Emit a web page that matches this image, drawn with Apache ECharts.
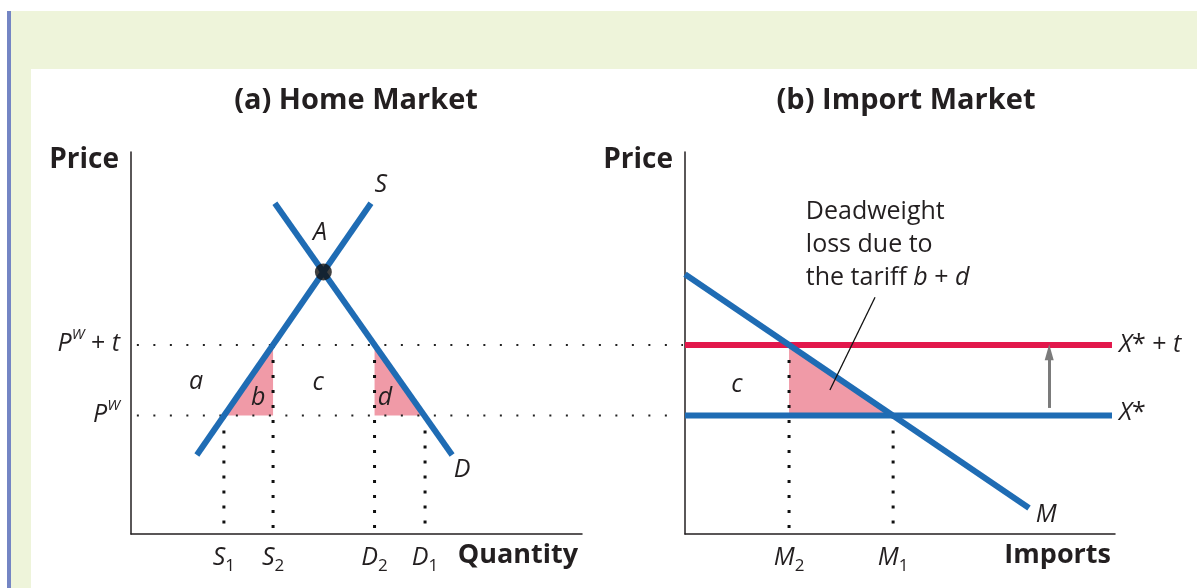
<!DOCTYPE html>
<html>
<head>
<meta charset="utf-8">
<script src="https://cdn.jsdelivr.net/npm/echarts@6/dist/echarts.min.js"></script>
<style>
  body { margin: 0; background: #fff; }
  .wrap { position: relative; width: 1197px; height: 588px; overflow: hidden; }
  .band { position: absolute; left: 11px; top: 11px; right: 0; bottom: 0; background: #eef4da; }
  .bar { position: absolute; left: 7px; top: 11px; width: 4px; bottom: 0; background: #7485c4; }
  .panel { position: absolute; left: 31px; top: 69px; right: 0; bottom: 0; background: #fff; }
  #chart { position: absolute; left: 0; top: 0; width: 1197px; height: 588px; }
</style>
</head>
<body>
<div class="wrap">
  <div class="band"></div>
  <div class="bar"></div>
  <div class="panel"></div>
  <div id="chart"></div>
</div>
<script>
// prices
let worldPrice = 3.1
let tariffPrice = 4.95

// (a) home market
let supplyQ = [1.46, 5.32]
let supplyP = [2.07, 8.66]
let demandQ = [3.19, 7.12]
let demandP = [8.66, 2.07]
let pointA = [4.265, 6.86]
let homeQNames = ['S1', 'S2', 'D2', 'D1']
let homeQ = [2.06, 3.15, 5.40, 6.52]
let homeQPrice = [worldPrice, tariffPrice, tariffPrice, worldPrice]
let triB = [[2.06, 3.1], [3.15, 4.95], [3.15, 3.1]]
let triD = [[5.40, 4.95], [5.40, 3.1], [6.52, 3.1]]
let homeNotes = ['S', 'A', 'D', 'a', 'b', 'c', 'd']
let homeNoteQ = [5.54, 4.19, 7.34, 1.44, 2.82, 4.15, 5.63]
let homeNoteP = [9.14, 7.88, 1.68, 3.98, 3.56, 3.95, 3.56]
// dotted price guides run from the home axis over to the import axis
let guideStart = 0.13
let guideEnd = [12.24, 12.1]

// (b) import market
let importQ = [0, 8.0]
let importP = [6.8, 0.68]
let exportEnd = 9.93
let importQNames = ['M2', 'M1']
let importQ2 = [2.42, 4.84]
let importQPrice = [tariffPrice, worldPrice]
let triM = [[2.42, 4.95], [2.42, 3.1], [4.84, 3.1]]
let leader = [[4.42, 6.2], [3.37, 3.77]]
let arrow = [8.47, 3.3, 4.76]

let font = 'Open Sans'
let blue = '#1f6cb4'
let red = '#e2184c'
let pink = '#f09aa7'
let ink = '#231f20'

let rich = {
    it: { fontStyle: 'italic', fontSize: 25, fontFamily: font, color: ink, lineHeight: 33 },
    n: { fontSize: 25, fontFamily: font, color: ink, lineHeight: 33 },
    sup: { fontStyle: 'italic', fontSize: 15, fontFamily: font, color: ink, verticalAlign: 'top', padding: [0, 0, 12, 0] },
    sub: { fontSize: 17, fontFamily: font, color: ink, verticalAlign: 'bottom', padding: [12, 0, 0, 0] }
}

function seg(xs, ys) {
    return xs.map((x, i) => [x, ys[i]])
}

function sub(name) {
    return '{it|' + name[0] + '}{sub|' + name.slice(1) + '}'
}

// text placed at data coords, dx/dy in px
function textSeries(idx, texts, xs, ys, align, dx, dy) {
    return {
        type: 'custom',
        xAxisIndex: idx, yAxisIndex: idx,
        z: 10,
        clip: false,
        data: xs.map((x, i) => [x, ys[i]]),
        renderItem: function (params, api) {
            let p = api.coord([api.value(0), api.value(1)])
            return {
                type: 'text',
                x: p[0] + dx, y: p[1] + dy,
                style: {
                    text: texts[params.dataIndex],
                    rich: rich,
                    align: align,
                    verticalAlign: 'middle',
                    fontSize: 25, fontFamily: font, fill: ink
                }
            }
        }
    }
}

function triSeries(idx, tris) {
    return {
        type: 'custom',
        xAxisIndex: idx, yAxisIndex: idx,
        z: 1,
        data: tris.map(t => t[0]),
        renderItem: function (params, api) {
            let pts = tris[params.dataIndex].map(v => api.coord(v))
            return { type: 'polygon', shape: { points: pts }, style: { fill: pink } }
        }
    }
}

// horizontal dotted guides, drawn unclipped so they cross the gap between panels
function guideSeries(prices) {
    return {
        type: 'custom',
        xAxisIndex: 0, yAxisIndex: 0,
        z: 2,
        clip: false,
        data: prices.map((p, i) => [guideStart, p, guideEnd[i]]),
        renderItem: function (params, api) {
            let a = api.coord([api.value(0), api.value(1)])
            let b = api.coord([api.value(2), api.value(1)])
            return {
                type: 'line',
                shape: { x1: a[0], y1: a[1], x2: b[0], y2: b[1] },
                style: { stroke: '#222', lineWidth: 2, lineDash: [2, 14.5] }
            }
        }
    }
}

function lineSeries(idx, data, color, width, type, z) {
    return {
        type: 'line',
        xAxisIndex: idx, yAxisIndex: idx,
        data: data,
        symbol: 'none',
        clip: false,
        silent: true,
        z: z,
        lineStyle: { color: color, width: width, type: type || 'solid', cap: 'butt' }
    }
}

let series = []

// pink areas
series.push(triSeries(0, [triB, triD]))
series.push(triSeries(1, [triM]))

series.push(guideSeries([tariffPrice, worldPrice]))

// dotted quantity drops
homeQ.forEach((q, i) => {
    series.push(lineSeries(0, [[q, homeQPrice[i]], [q, 0.12]], '#111', 3, [3, 12], 2))
})
importQ2.forEach((q, i) => {
    series.push(lineSeries(1, [[q, importQPrice[i]], [q, 0.12]], '#111', 3, [3, 12], 2))
})

// curves
series.push(lineSeries(0, seg(supplyQ, supplyP), blue, 6, 'solid', 3))
series.push(lineSeries(0, seg(demandQ, demandP), blue, 6, 'solid', 3))
series.push({
    type: 'scatter', xAxisIndex: 0, yAxisIndex: 0, z: 4,
    data: [pointA], symbolSize: 17, itemStyle: { color: '#111' }
})

series.push(lineSeries(1, [[0, tariffPrice], [exportEnd, tariffPrice]], red, 6, 'solid', 3))
series.push(lineSeries(1, [[0, worldPrice], [exportEnd, worldPrice]], blue, 6, 'solid', 3))
series.push(lineSeries(1, seg(importQ, importP), blue, 6, 'solid', 4))
series.push(lineSeries(1, leader, '#111', 1.3, 'solid', 5))

// arrow for the tariff shift
series.push({
    type: 'line', xAxisIndex: 1, yAxisIndex: 1, data: [], silent: true,
    markLine: {
        silent: true,
        symbol: ['none', 'triangle'],
        symbolSize: [9, 16],
        label: { show: false },
        lineStyle: { color: '#7b7b7b', width: 3, type: 'solid' },
        data: [[{ coord: [arrow[0], arrow[1]] }, { coord: [arrow[0], arrow[2]] }]]
    }
})

// labels
series.push(textSeries(0, homeNotes.map(t => '{it|' + t + '}'), homeNoteQ, homeNoteP, 'center', 0, 0))
series.push(textSeries(0, homeQNames.map(sub), homeQ, homeQ.map(() => 0), 'center', 0, 24))
series.push(textSeries(0, ['{it|P}{sup|W}{n| + }{it|t}', '{it|P}{sup|W}'], [0, 0], [tariffPrice, worldPrice], 'right', -11, -1))
series.push(textSeries(1, importQNames.map(sub), importQ2, importQ2.map(() => 0), 'center', 0, 24))
series.push(textSeries(1, ['{it|c}', '{it|M}'], [1.21, 8.4], [3.9, 0.5], 'center', 0, 0))
series.push(textSeries(1, ['{it|X}{n|* + }{it|t}', '{it|X}{n|*}'], [exportEnd, exportEnd], [tariffPrice, worldPrice + 0.08], 'left', 7, 0))
series.push(textSeries(1, ['{n|Deadweight}\n{n|loss due to}\n{n|the tariff }{it|b}{n| + }{it|d}'], [2.81], [7.57], 'left', 0, 0))

function axisX(idx, name) {
    return {
        type: 'value', gridIndex: idx, min: 0, max: 10,
        axisLine: { lineStyle: { color: ink, width: 1.5 } },
        axisTick: { show: false }, axisLabel: { show: false }, splitLine: { show: false },
        name: name, nameLocation: 'end', nameGap: -4,
        nameTextStyle: { fontFamily: font, fontWeight: 'bold', fontSize: 27, color: ink, align: 'right', verticalAlign: 'top', padding: [8, 0, 0, 0] }
    }
}
function axisY(idx) {
    return {
        type: 'value', gridIndex: idx, min: 0, max: 10,
        axisLine: { lineStyle: { color: ink, width: 1.5 } },
        axisTick: { show: false }, axisLabel: { show: false }, splitLine: { show: false },
        name: 'Price', nameLocation: 'end', nameGap: -8,
        nameTextStyle: { fontFamily: font, fontWeight: 'bold', fontSize: 28, color: ink, align: 'right', verticalAlign: 'middle', padding: [0, 12, 0, 0] }
    }
}

let option = {
    animation: false,
    title: [
        { text: '(a) Home Market', left: 351, top: 81, textAlign: 'center',
          textStyle: { fontFamily: font, fontWeight: 'bold', fontSize: 29, color: ink } },
        { text: '(b) Import Market', left: 901, top: 81, textAlign: 'center',
          textStyle: { fontFamily: font, fontWeight: 'bold', fontSize: 29, color: ink } }
    ],
    grid: [
        { left: 131, top: 152, width: 451, height: 382 },
        { left: 685, top: 152, width: 430, height: 382 }
    ],
    xAxis: [axisX(0, 'Quantity'), axisX(1, 'Imports')],
    yAxis: [axisY(0), axisY(1)],
    series: series
}

let myChart = echarts.init(document.getElementById('chart'))
myChart.setOption(option)
</script>
</body>
</html>
